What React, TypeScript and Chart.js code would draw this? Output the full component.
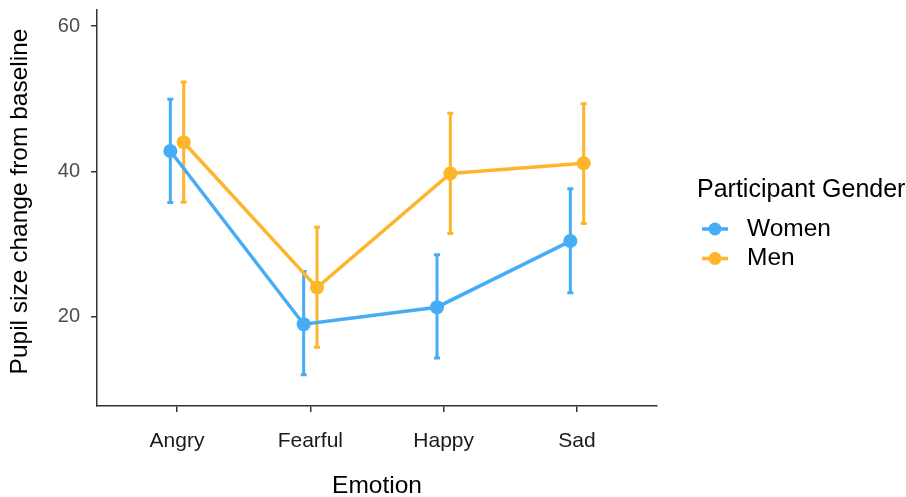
import React, { useEffect, useRef } from "react";
import { Chart, registerables } from "chart.js";

Chart.register(...registerables);

const categories = ["Angry", "Fearful", "Happy", "Sad"];
const womenMean = [42.8, 18.95, 21.3, 30.4];
const womenLow = [35.7, 12.0, 14.3, 23.3];
const womenHigh = [49.9, 26.2, 28.5, 37.6];
const menMean = [44.0, 24.0, 39.7, 41.1];
const menLow = [35.75, 15.8, 31.45, 32.8];
const menHigh = [52.3, 32.3, 48.0, 49.3];
const yTicks = [20, 40, 60];
const seriesNames = ["Women", "Men"];
const legendTitle = "Participant Gender";
const yTitle = "Pupil size change from baseline";
const xTitle = "Emotion";

const BLUE = "#47ACF6";
const ORANGE = "#FDB62B";
const FONT = "'Liberation Sans', Arial, Helvetica, sans-serif";
const DODGE = 0.05;

export default function App() {
  const ref = useRef<HTMLCanvasElement | null>(null);
  useEffect(() => {
    if (!ref.current) return;
    const series = [
      { name: seriesNames[0], mean: womenMean, low: womenLow, high: womenHigh, color: BLUE, off: -DODGE },
      { name: seriesNames[1], mean: menMean, low: menLow, high: menHigh, color: ORANGE, off: DODGE },
    ];

    const errorBars = {
      id: "errorBars",
      beforeDatasetsDraw(chart: any) {
        const { ctx, scales } = chart;
        const xs = scales.x;
        const ys = scales.y;
        ctx.save();
        series.forEach((s) => {
          ctx.strokeStyle = s.color;
          ctx.lineWidth = 3;
          ctx.lineCap = "butt";
          s.mean.forEach((_, i) => {
            const x = xs.getPixelForValue(i + s.off);
            const yl = ys.getPixelForValue(s.low[i]);
            const yh = ys.getPixelForValue(s.high[i]);
            ctx.beginPath();
            ctx.moveTo(x, yl);
            ctx.lineTo(x, yh);
            ctx.stroke();
            ctx.beginPath();
            ctx.moveTo(x - 3, yl);
            ctx.lineTo(x + 3, yl);
            ctx.moveTo(x - 3, yh);
            ctx.lineTo(x + 3, yh);
            ctx.stroke();
          });
        });
        ctx.restore();
      },
    };

    const annotations = {
      id: "customLegend",
      afterDraw(chart: any) {
        const { ctx } = chart;
        ctx.save();
        // y axis title
        ctx.save();
        ctx.translate(20, 201.5);
        ctx.rotate(-Math.PI / 2);
        ctx.fillStyle = "#000";
        ctx.font = `24.5px ${FONT}`;
        ctx.textAlign = "center";
        ctx.textBaseline = "middle";
        ctx.fillText(yTitle, 0, 0);
        ctx.restore();
        // legend
        ctx.fillStyle = "#000";
        ctx.font = `25px ${FONT}`;
        ctx.textBaseline = "alphabetic";
        ctx.textAlign = "left";
        ctx.fillText(legendTitle, 697, 197);
        ctx.font = `24.5px ${FONT}`;
        const rows = [229, 258.5];
        series.forEach((s, k) => {
          const cy = rows[k];
          ctx.strokeStyle = s.color;
          ctx.lineWidth = 3.5;
          ctx.beginPath();
          ctx.moveTo(702, cy);
          ctx.lineTo(728, cy);
          ctx.stroke();
          ctx.fillStyle = s.color;
          ctx.beginPath();
          ctx.arc(715, cy, 6.5, 0, Math.PI * 2);
          ctx.fill();
          ctx.fillStyle = "#000";
          ctx.textBaseline = "middle";
          ctx.fillText(s.name, 747, cy);
        });
        ctx.restore();
      },
    };

    const chart = new Chart(ref.current, {
      type: "line",
      data: {
        datasets: series.map((s) => ({
          label: s.name,
          data: s.mean.map((v, i) => ({ x: i + s.off, y: v })),
          borderColor: s.color,
          backgroundColor: s.color,
          borderWidth: 3.5,
          pointRadius: 7,
          pointBorderWidth: 0,
          pointHoverRadius: 7,
          tension: 0,
        })),
      },
      options: {
        animation: false,
        responsive: true,
        maintainAspectRatio: false,
        layout: { padding: { left: 0, right: 249, top: 10, bottom: 0 } },
        plugins: { legend: { display: false }, tooltip: { enabled: false } },
        scales: {
          x: {
            type: "linear",
            min: -0.6,
            max: 3.6,
            afterBuildTicks(scale: any) {
              scale.ticks = categories.map((_, i) => ({ value: i }));
            },
            afterFit(scale: any) {
              scale.height = 91;
              scale.paddingLeft = 0;
              scale.paddingRight = 0;
            },
            ticks: {
              callback: (v: any) => categories[v as number] ?? "",
              font: { family: FONT, size: 21 },
              color: "#1a1a1a",
              padding: 17,
              maxRotation: 0,
            },
            grid: { display: true, drawOnChartArea: false, drawTicks: true, tickLength: 6, color: "#333", lineWidth: 1.5 },
            border: { display: true, color: "#333", width: 1.5 },
            title: {
              display: true,
              text: xTitle,
              font: { family: FONT, size: 24.5, lineHeight: 1 },
              color: "#000",
              padding: { top: 0, bottom: -1 },
            },
          },
          y: {
            type: "linear",
            min: 7.7,
            max: 62.2,
            afterBuildTicks(scale: any) {
              scale.ticks = yTicks.map((v) => ({ value: v }));
            },
            afterFit(scale: any) {
              scale.width = 97;
              scale.paddingTop = 0;
              scale.paddingBottom = 0;
            },
            ticks: {
              font: { family: FONT, size: 20 },
              color: "#4d4d4d",
              padding: 11,
            },
            grid: { display: true, drawOnChartArea: false, drawTicks: true, tickLength: 6, color: "#333", lineWidth: 1.5 },
            border: { display: true, color: "#333", width: 1.5 },
            title: { display: false },
          },
        },
      },
      plugins: [errorBars, annotations],
    });
    return () => chart.destroy();
  }, []);

  return (
    <div style={{ position: "fixed", left: 0, top: 0, width: 906, height: 497, background: "#fff" }}>
      <canvas ref={ref} />
    </div>
  );
}
